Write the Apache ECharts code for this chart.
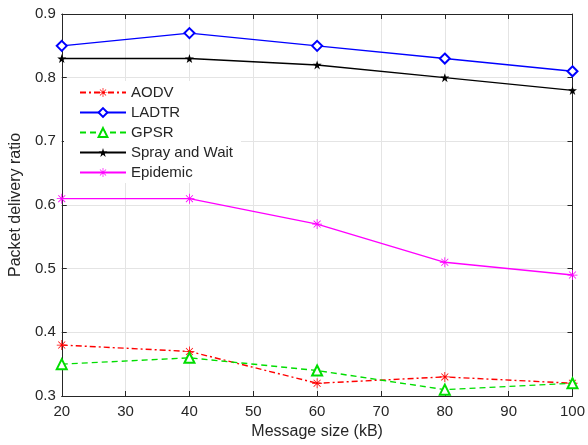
<!DOCTYPE html>
<html lang="en">
<head>
    <meta charset="UTF-8">
    <title>Packet delivery ratio vs message size</title>
    <script src="https://cdn.jsdelivr.net/npm/echarts@6/dist/echarts.min.js"></script>
</head>
<style>
    *{
        margin: 0;
    }
    html,body{
        height: 100%;
        background: #fff;
    }
    #chart{
        width: 588px;
        height: 445px;
    }
</style>
<body>
<div id="chart"></div>
<script>
  // values
  const msgSize = [20, 40, 60, 80, 100];
  const aodv = [0.38, 0.37, 0.32, 0.33, 0.32];
  const ladtr = [0.85, 0.87, 0.85, 0.83, 0.81];
  const gpsr = [0.35, 0.36, 0.34, 0.31, 0.32];
  const sprayWait = [0.83, 0.83, 0.82, 0.80, 0.78];
  const epidemic = [0.61, 0.61, 0.57, 0.51, 0.49];

  // matlab-like marker shapes
  const asterisk = 'path://M0 9.2L20 9.2L20 10.8L0 10.8ZM9.2 0L10.8 0L10.8 20L9.2 20ZM2.5 3.6L3.6 2.5L17.5 16.4L16.4 17.5ZM16.4 2.5L17.5 3.6L3.6 17.5L2.5 16.4Z';
  const pentagram = 'path://M10 0L12.245 6.91L19.51 6.91L13.633 11.18L15.88 18.09L10 13.82L4.12 18.09L6.367 11.18L0.49 6.91L7.755 6.91Z';

  const font = 'Liberation Sans';
  const ink = '#262626';

  function pairs(ys){
      return msgSize.map((x, i) => [x, ys[i]]);
  }

  function line(name, ys, color, symbol, size, type, border){
      return {
          name: name,
          type: 'line',
          data: pairs(ys),
          symbol: symbol,
          symbolSize: size,
          showSymbol: true,
          color: color,
          itemStyle: {color: color, borderColor: color, borderWidth: border},
          lineStyle: {color: color, width: 1.4, type: type},
          emphasis: {disabled: true}
      };
  }

  let chart = echarts.init(document.getElementById('chart'));
  chart.setOption({
      animation: false,
      textStyle: {fontFamily: font},
      grid: {left: 60, right: 13, top: 14, bottom: 48},
      legend: {
          orient: 'vertical',
          left: 64,
          top: 81,
          itemWidth: 46,
          itemHeight: 11,
          itemGap: 5,
          padding: [4, 8, 3, 15],
          backgroundColor: '#fff',
          textStyle: {fontSize: 15, color: ink, fontFamily: font},
          data: ['AODV', 'LADTR', 'GPSR', 'Spray and Wait', 'Epidemic']
      },
      xAxis: [
          {
              type: 'value',
              min: 20,
              max: 100,
              interval: 10,
              name: 'Message size (kB)',
              nameLocation: 'middle',
              nameGap: 28,
              nameTextStyle: {fontSize: 16, color: ink},
              axisLine: {lineStyle: {color: ink}},
              axisTick: {inside: true, length: 5, lineStyle: {color: ink}},
              axisLabel: {fontSize: 15, color: ink, margin: 8},
              splitLine: {show: true, lineStyle: {color: '#e4e4e4'}}
          },
          {
              type: 'value',
              position: 'top',
              min: 20,
              max: 100,
              interval: 10,
              axisLine: {show: true, lineStyle: {color: ink}},
              axisTick: {inside: true, length: 5, lineStyle: {color: ink}},
              axisLabel: {show: false},
              splitLine: {show: false}
          }
      ],
      yAxis: [
          {
              type: 'value',
              min: 0.3,
              max: 0.9,
              interval: 0.1,
              name: 'Packet delivery ratio',
              nameLocation: 'middle',
              nameGap: 36,
              nameTextStyle: {fontSize: 16, color: ink},
              axisLine: {show: true, lineStyle: {color: ink}},
              axisTick: {show: true, inside: true, length: 5, lineStyle: {color: ink}},
              axisLabel: {fontSize: 15, color: ink, margin: 6, formatter: v => v.toFixed(1)},
              splitLine: {show: true, lineStyle: {color: '#e4e4e4'}}
          },
          {
              type: 'value',
              position: 'right',
              min: 0.3,
              max: 0.9,
              interval: 0.1,
              axisLine: {show: true, lineStyle: {color: ink}},
              axisTick: {show: true, inside: true, length: 5, lineStyle: {color: ink}},
              axisLabel: {show: false},
              splitLine: {show: false}
          }
      ],
      series: [
          line('AODV', aodv, '#ff0000', asterisk, 10, [6, 3, 2, 3], 0),
          line('LADTR', ladtr, '#0000ff', 'emptyDiamond', 10, 'solid', 1),
          line('GPSR', gpsr, '#00dd00', 'emptyTriangle', 10, [6, 4], 1),
          line('Spray and Wait', sprayWait, '#000000', pentagram, 9, 'solid', 0),
          line('Epidemic', epidemic, '#ff00ff', asterisk, 10, 'solid', 0)
      ]
  });
</script>
</body>
</html>
